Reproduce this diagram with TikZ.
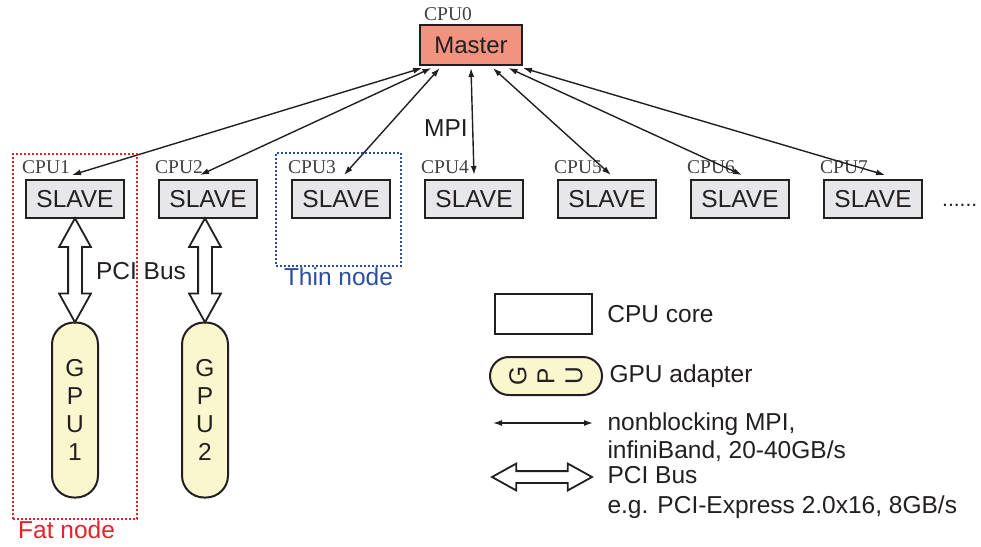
\documentclass[tikz,border=0pt]{standalone}
\usepackage{fontspec}
\setmainfont{Liberation Sans}
\newfontfamily\cpufont{Liberation Serif}
\usepackage{xcolor}
\usetikzlibrary{arrows.meta, positioning, calc, shapes.arrows}
\definecolor{masterred}{HTML}{F29380}
\definecolor{slavegray}{HTML}{E7E7E9}
\definecolor{gpuyellow}{HTML}{FAF7CF}
\definecolor{fatred}{HTML}{E8202A}
\definecolor{thinblue}{HTML}{2B4EA2}
\definecolor{ink}{HTML}{231F20}

\begin{document}
\begin{tikzpicture}[x=1pt, y=-1pt,
    every node/.style={font=\fontsize{24.5}{28}\selectfont, text=ink},
    slave/.style={draw=ink, line width=2pt, fill=slavegray, minimum width=98pt, minimum height=38pt, inner sep=0pt},
    master/.style={slave, fill=masterred, minimum width=102pt, minimum height=40pt, font=\fontsize{24}{28}\selectfont},
    cpulbl/.style={anchor=south west, inner sep=0pt, font=\cpufont\fontsize{19.5}{20}\selectfont, text=black!75},
    gpu/.style={draw=ink, line width=2pt, fill=gpuyellow, rounded corners=22pt, align=center, inner sep=0pt},
    pci/.style={double arrow, draw=ink, fill=white, line width=1.8pt, inner xsep=0pt,
        double arrow tip angle=58, double arrow head indent=0pt},
    mpi/.style={draw=ink, line width=1.4pt, {Latex[length=9pt, width=6pt]}-{Latex[length=9pt, width=6pt]}},
    nodebox/.style={draw, dotted, line width=2pt, inner sep=0pt}]
    \useasboundingbox (0,0) rectangle (981,546);

    % master and slaves
    \node[master] (m) at (471,45) {Master};
    \node[cpulbl] at ($(m.north west)+(5,-3)$) {CPU0};
    \foreach \i in {1,...,7} {
        \node[slave] (s\i) at ({75+133*(\i-1)},199) {SLAVE};
        \node[cpulbl] at ($(s\i.north west)+(-3,-5)$) {CPU\i};
    }
    \node[anchor=base west, inner sep=0pt, font=\fontsize{21}{24}\selectfont] (dots) at (942,206) {......};

    % MPI links
    \foreach \i/\f/\dx in {1/0.03/-3, 2/0.12/-8, 3/0.2/3, 4/0.5/0, 5/0.71/4, 6/0.86/2, 7/1.0/12}
        \draw[mpi] ($(m.south west)!\f!(m.south east)+(0,2)$) -- ($(s\i.north)+(\dx,-4)$);
    \node (mpilbl) at (446,128) {MPI};

    % GPUs on PCI bus
    \node[gpu, minimum width=46pt, minimum height=175pt] (g1) at (75,410) {G\\P\\U\\1};
    \node[gpu, minimum width=46pt, minimum height=175pt] (g2) at (205,410) {G\\P\\U\\2};
    \foreach \i in {1,2}
        \path (s\i.south -| g\i.north) -- (g\i.north)
            node[pci, midway, rotate=90, minimum height=104pt, inner ysep=6pt, double arrow head extend=9pt] {};
    \node (pcilbl) at (141,271) {PCI Bus};

    % fat and thin node
    \node[nodebox, draw=fatred, minimum width=124pt, minimum height=365pt] (fat) at (75,336.5) {};
    \node[anchor=north west, inner sep=1pt, text=fatred] at ($(fat.south west)+(5,0)$) {Fat node};
    \node[nodebox, draw=thinblue, minimum width=125pt, minimum height=113pt] (thin) at (338.5,209.5) {};
    \node[anchor=north, inner sep=1pt, text=thinblue] at (thin.south) {Thin node};

    % legend
    \node[draw=ink, line width=1.8pt, minimum width=97pt, minimum height=40pt] (lcpu) at (543.5,314) {};
    \node[right=11pt of lcpu] {CPU core};
    \node[gpu, rotate=90, rounded corners=19pt, minimum width=38pt, minimum height=112pt] (lgpu) at (546,376) {G\\P\\U};
    \node[right=3pt of lgpu.south] {GPU adapter};
    \coordinate (lm1) at (493,423);
    \coordinate (lm2) at (593,423);
    \draw[mpi] (lm1) -- (lm2);
    \node[anchor=west, align=left] at (604,437) {nonblocking MPI,\\infiniBand, 20-40GB/s};
    \node[pci, minimum height=100pt, inner ysep=5pt, double arrow head extend=7.5pt] (lpci) at (542,477) {};
    \node[anchor=west, align=left, font=\fontsize{24.5}{30}\selectfont] at (604,492) {PCI Bus\\e.g. PCI-Express 2.0x16, 8GB/s};
\end{tikzpicture}
\end{document}
